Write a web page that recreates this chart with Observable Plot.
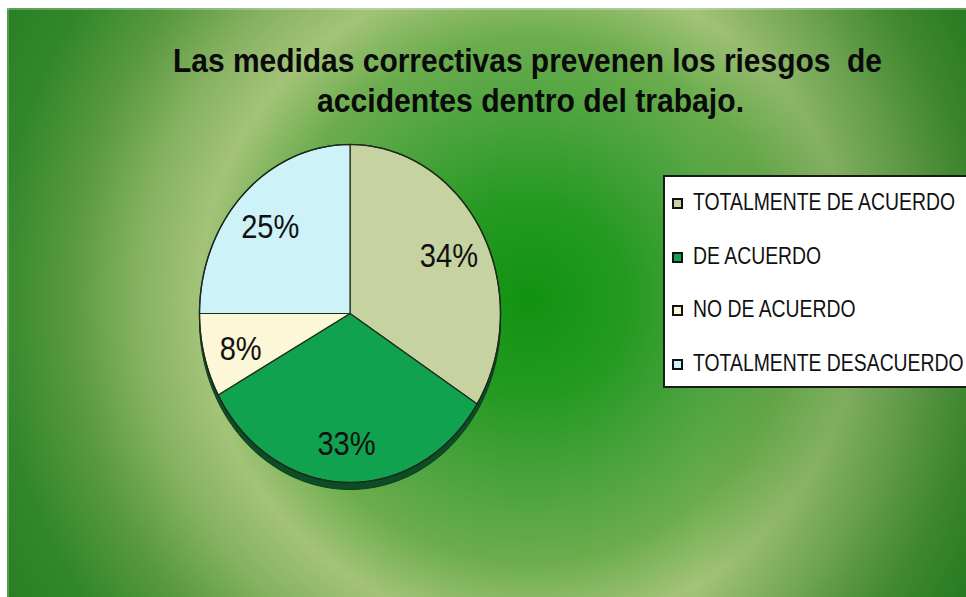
<!DOCTYPE html>
<html>
<head>
<meta charset="utf-8">
<script src="https://cdn.jsdelivr.net/npm/d3@7"></script>
<script src="https://cdn.jsdelivr.net/npm/@observablehq/plot@0.6"></script>
<style>
  html, body { margin: 0; padding: 0; background: #fff; }
  #wrap { position: relative; width: 966px; height: 597px; overflow: hidden; background: #fff; }
  #bg { position: absolute; left: 7px; top: 8px; width: 959px; height: 589px;
    background:
      linear-gradient(to right, rgba(0,0,0,0) 72%, rgba(20,105,20,0.45) 100%),
      radial-gradient(circle at 523px 292px, #119211 0px, #259a21 100px, #4ba33e 185px, #6cad4e 262px, #a3c378 330px, #86b262 392px, #58993f 462px, #33872b 535px, #217b20 640px);
    box-shadow: inset 0 2px 0 rgba(255,255,255,0.25), inset 2px 0 0 rgba(255,255,255,0.2);
  }
  #chart { position: absolute; left: 0; top: 0; }
  .title { position: absolute; white-space: pre; font-weight: bold; font-size: 33px; line-height: 33px;
    font-family: "Liberation Sans Narrow", "Arial Narrow", "Liberation Sans", Arial, sans-serif;
    color: #0a0a0a; transform-origin: 0 0; display: inline-block; }
  #legend { position: absolute; left: 663px; top: 175px; width: 330px; height: 213px; box-sizing: border-box;
    background: #fff; border: 2px solid #1a1a1a; }
  .lg-sw { position: absolute; width: 11px; height: 11px; box-sizing: border-box; border: 2px solid #111; }
  .lg-tx { position: absolute; white-space: pre; font-size: 24.5px; line-height: 24.5px; display: inline-block;
    font-family: "Liberation Sans Narrow", "Arial Narrow", "Liberation Sans", Arial, sans-serif;
    color: #111; transform-origin: 0 0; }
</style>
</head>
<body>
<div id="wrap">
  <div id="bg"></div>
  <div id="chart"></div>
</div>
<script>
// ---- data ----
const titleLines = ["Las medidas correctivas prevenen los riesgos  de", "accidentes dentro del trabajo."];
const categories = ["TOTALMENTE DE ACUERDO", "DE ACUERDO", "NO DE ACUERDO", "TOTALMENTE DESACUERDO"];
const values = [34, 33, 8, 25];
const valueLabels = ["34%", "33%", "8%", "25%"];
const colors = ["#c6d29f", "#10a24e", "#fcf7d7", "#cdf3f8"];

// ---- build pie geometry from data ----
const arcs = d3.pie().sort(null).value(d => d)(values);
const slicePts = [];
arcs.forEach((a, i) => {
  const cat = categories[i];
  slicePts.push({cat, x: 0, y: 0});
  const n = Math.max(4, Math.ceil((a.endAngle - a.startAngle) / (Math.PI / 180)));
  for (let k = 0; k <= n; k++) {
    const t = a.startAngle + (a.endAngle - a.startAngle) * k / n;
    slicePts.push({cat, x: Math.sin(t), y: -Math.cos(t)});
  }
  slicePts.push({cat, x: 0, y: 0});
});
const rim = d3.range(0, 361, 2).map(d => {
  const t = d * Math.PI / 180;
  return {x: Math.sin(t), y: -Math.cos(t)};
});
const labelR = 0.75;
const labelPts = arcs.map((a, i) => {
  const m = (a.startAngle + a.endAngle) / 2;
  return {x: labelR * Math.sin(m), y: -labelR * Math.cos(m), label: valueLabels[i]};
});

const plot = Plot.plot({
  width: 966,
  height: 597,
  margin: 0,
  x: {domain: [-1, 1], range: [199, 500], axis: null},
  y: {domain: [-1, 1], range: [144, 482], axis: null},
  color: {domain: categories, range: colors},
  style: {background: "transparent", overflow: "visible"},
  marks: [
    Plot.line(rim, {x: "x", y: "y", fill: "#0b4d25", stroke: "#0a3f1e", strokeWidth: 1, dy: 7}),
    Plot.line(slicePts, {x: "x", y: "y", z: "cat", fill: "cat", stroke: "#1d2b1d", strokeWidth: 1.2, strokeLinejoin: "round"}),
    Plot.line(rim, {x: "x", y: "y", stroke: "#1d2b1d", strokeWidth: 1.4}),
    Plot.text(labelPts, {x: "x", y: "y", text: "label", fontSize: 33, fill: "#111", dy: 4,
      fontFamily: "'Liberation Sans', Arial, sans-serif"})
  ]
});
// condense the percentage labels horizontally, like the original's narrow font
plot.querySelectorAll('g[aria-label="text"] text').forEach(t => {
  const tr = t.getAttribute("transform");
  if (tr) {
    t.setAttribute("transform", tr + " scale(0.88,1)");
  } else {
    const x = +t.getAttribute("x") || 0, y = +t.getAttribute("y") || 0;
    t.removeAttribute("x"); t.removeAttribute("y");
    t.setAttribute("transform", `translate(${x},${y}) scale(0.88,1)`);
  }
});
document.getElementById("chart").appendChild(plot);

// ---- title ----
const wrap = document.getElementById("wrap");
const titleBoxes = [{left: 173, top: 44, w: 709}, {left: 317, top: 84, w: 427}];
titleLines.forEach((t, i) => {
  const s = document.createElement("span");
  s.className = "title";
  s.textContent = t;
  s.style.left = titleBoxes[i].left + "px";
  s.style.top = titleBoxes[i].top + "px";
  wrap.appendChild(s);
  const w = s.getBoundingClientRect().width;
  s.style.transform = `scaleX(${titleBoxes[i].w / w})`;
});

// ---- legend ----
const lg = document.createElement("div");
lg.id = "legend";
wrap.appendChild(lg);
let scale = null;
categories.forEach((c, i) => {
  const base = 34 + i * 53.7; // baseline inside legend box
  const sw = document.createElement("div");
  sw.className = "lg-sw";
  sw.style.left = "7px";
  sw.style.top = (base - 13) + "px";
  sw.style.background = plot.scale("color").apply(c);
  lg.appendChild(sw);
  const tx = document.createElement("span");
  tx.className = "lg-tx";
  tx.textContent = c;
  tx.style.left = "28px";
  tx.style.top = (base - 21) + "px";
  lg.appendChild(tx);
  if (scale === null) scale = 262 / tx.getBoundingClientRect().width;
  tx.style.transform = `scaleX(${scale})`;
});
</script>
</body>
</html>
